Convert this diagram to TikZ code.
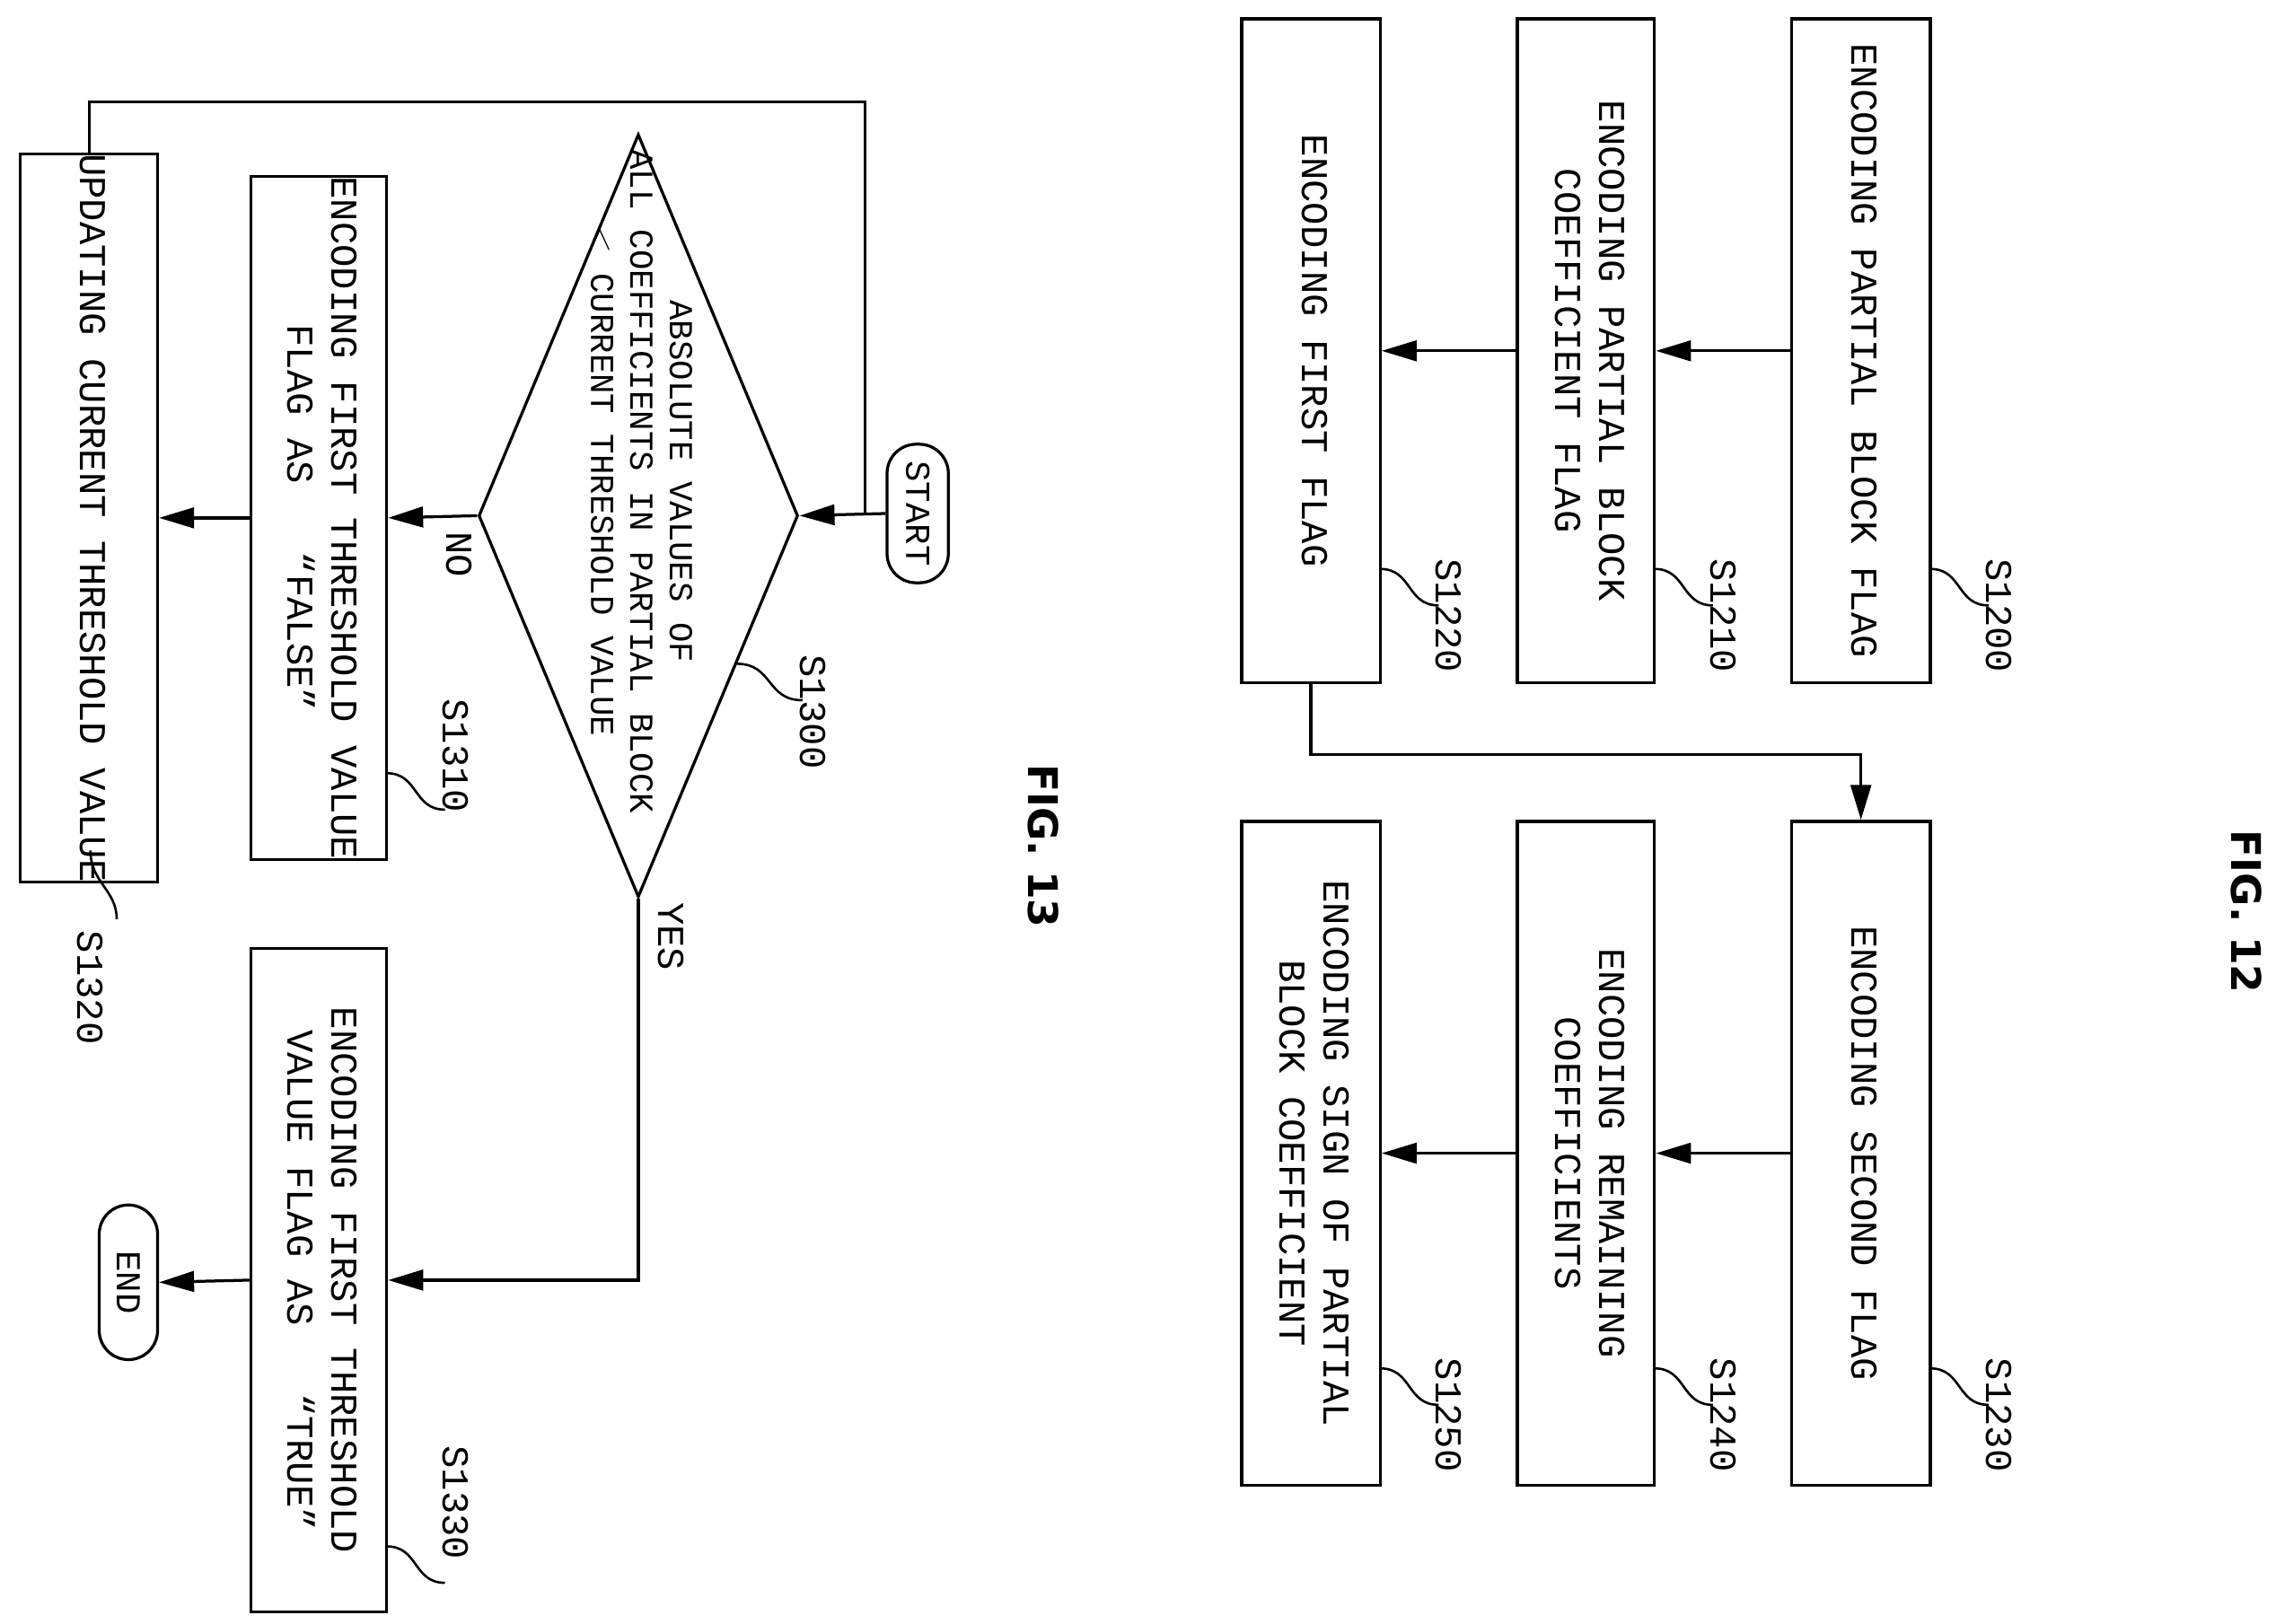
\documentclass[tikz,border=0pt]{standalone}
\usepackage{fontspec}
\setmainfont{Liberation Mono}
\newfontfamily\figfont{DejaVu Sans}
\usetikzlibrary{shapes.geometric,arrows.meta}
\begin{document}
\begin{tikzpicture}[x=0.5pt,y=-0.5pt,line width=1pt,
  box/.style={draw,inner sep=0pt,minimum width=#1,font=\fontsize{13pt}{15pt}\selectfont},
  arr/.style={-{Triangle[length=12pt,width=7pt]}},
  lbl/.style={rotate=-90,font=\fontsize{13pt}{15pt}\selectfont,inner sep=0pt},
  term/.style={draw,rounded corners=10pt,inner sep=0pt,font=\fontsize{12pt}{14pt}\selectfont},
  lead/.style={line width=0.8pt}]
\useasboundingbox (0,0) rectangle (1560,1113);
\newcommand{\rt}[1]{\rotatebox{-90}{\begin{tabular}{@{}c@{}}#1\end{tabular}}}
% FIG 12
\node[box=47.5pt,minimum height=227.5pt] (b1200) at (1275.5,240.5) {\rt{ENCODING PARTIAL BLOCK FLAG}};
\node[box=47pt,minimum height=227.5pt] (b1210) at (1087,240.5) {\rt{ENCODING PARTIAL BLOCK\\COEFFICIENT FLAG}};
\node[box=47.5pt,minimum height=227.5pt] (b1220) at (898.5,240.5) {\rt{ENCODING FIRST FLAG}};
\node[box=47.5pt,minimum height=227.5pt] (b1230) at (1275.5,790.5) {\rt{ENCODING SECOND FLAG}};
\node[box=47pt,minimum height=227.5pt] (b1240) at (1087,790.5) {\rt{ENCODING REMAINING\\COEFFICIENTS}};
\node[box=47.5pt,minimum height=227.5pt] (b1250) at (898.5,790.5) {\rt{ENCODING SIGN OF PARTIAL\\BLOCK COEFFICIENT}};
\draw[arr] (b1200.west) -- (b1210.east);
\draw[arr] (b1210.west) -- (b1220.east);
\draw[arr] (b1230.west) -- (b1240.east);
\draw[arr] (b1240.west) -- (b1250.east);
\draw[arr] (b1220.south) -- ++(0,48) -| (b1230.north);
\foreach \n/\x/\y in {1200/1323/390,1210/1134/390,1220/946/390,1230/1323/938,1240/1134/938,1250/946/938}{
  \draw[lead] (\x,\y) .. controls (\x+22,\y) and (\x+18,\y+25) .. (\x+40,\y+25);
  \node[lbl,anchor=north] (l\n) at (\x+57,\y+32) {S\n};
}
\node[rotate=-90,font=\figfont\bfseries\fontsize{14pt}{16pt}\selectfont] (f12) at (1540,625) {FIG. 12};
% FIG 13
\node[term,minimum width=21pt,minimum height=47.5pt] (start) at (629,352) {\rotatebox{-90}{START}};
\node[draw,diamond,inner sep=0pt,minimum width=109.5pt,minimum height=261.5pt,shape aspect=0.42] (d) at (437.5,353.5) {};
\node[font=\fontsize{11.5pt}{13.5pt}\selectfont,inner sep=0pt] (dt) at (437.5,330) {\rt{ABSOLUTE VALUES OF\\ALL COEFFICIENTS IN PARTIAL BLOCK\\$<$ CURRENT THRESHOLD VALUE}};
\node[box=46.5pt,minimum height=228pt] (b1310) at (218.5,355) {\rt{ENCODING FIRST THRESHOLD VALUE\\FLAG AS \ \ ``FALSE''}};
\node[box=47pt,minimum height=228pt] (b1320) at (61,355) {\rt{UPDATING CURRENT THRESHOLD VALUE}};
\node[box=46.5pt,minimum height=227.5pt] (b1330) at (218.5,877.5) {\rt{ENCODING FIRST THRESHOLD\\VALUE FLAG AS \ \ ``TRUE''}};
\node[term,minimum width=20pt,minimum height=53pt] (end) at (88,879) {\rotatebox{-90}{END}};
\draw[arr] (start.west) -- (d.east);
\draw (b1320.north) |- (593,70) -- (593,352);
\draw[arr] (d.west) -- (b1310.east);
\draw[arr] (b1310.west) -- (b1320.east);
\draw[arr] (d.south) |- (b1330.east);
\draw[arr] (b1330.west) -- (end.east);
\node[lbl] (no) at (315,380) {NO};
\node[lbl] (yes) at (460,642) {YES};
\draw[lead] (505,455) .. controls (530,455) and (525,480) .. (550,480);
\node[lbl,anchor=north] (l1300) at (567,488) {S1300};
\draw[lead] (265,530) .. controls (287,530) and (283,555) .. (305,555);
\node[lbl,anchor=north] (l1310) at (322,518) {S1310};
\draw[lead] (265,1060) .. controls (287,1060) and (283,1085) .. (305,1085);
\node[lbl,anchor=north] (l1330) at (322,1030) {S1330};
\draw[lead] (62,583) .. controls (62,605) and (80,610) .. (80,630);
\node[lbl,anchor=west,rotate=0] (l1320) at (62,638) {};
\node[lbl] (l1320b) at (62,677) {S1320};
\node[rotate=-90,font=\figfont\bfseries\fontsize{14pt}{16pt}\selectfont] (f13) at (715,580) {FIG. 13};
\end{tikzpicture}
\end{document}
